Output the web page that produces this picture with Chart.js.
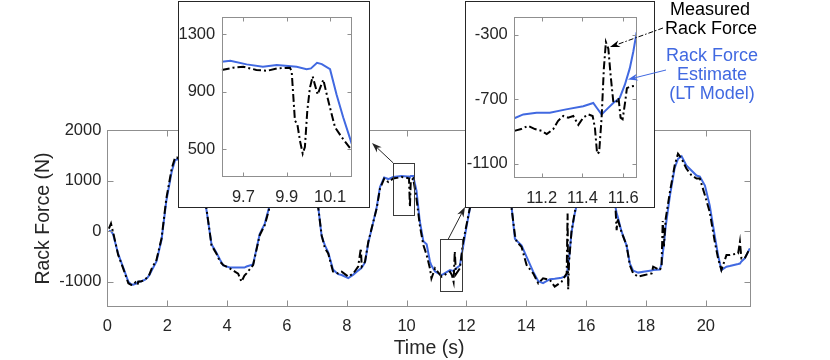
<!DOCTYPE html>
<html>
<head>
<meta charset="utf-8">
<script src="https://cdn.jsdelivr.net/npm/chart.js@4.4.1/dist/chart.umd.min.js"></script>
<style>
  body { margin: 0; background: #fff; }
  #wrap { position: relative; width: 830px; height: 360px; }
  canvas { position: absolute; }
</style>
</head>
<body>
<div id="wrap">
  <canvas id="main" width="830" height="360" style="left:0;top:0"></canvas>
  <canvas id="zoomA" width="192" height="207" style="left:178px;top:1px;background:#fff"></canvas>
  <canvas id="zoomB" width="190" height="207" style="left:465px;top:1px;background:#fff"></canvas>
  <canvas id="marks" width="830" height="360" style="left:0;top:0"></canvas>
</div>
<script>
// --- data ---
const time = [0.05, 0.12, 0.19, 0.36, 0.53, 0.70, 0.79, 0.86, 0.94, 1.01, 1.03, 1.14, 1.26, 1.34, 1.40, 1.48, 1.64, 1.81, 1.97, 2.15, 2.26, 2.32, 2.45, 2.65, 2.9, 3.1, 3.2, 3.31, 3.48, 3.64, 3.76, 3.87, 4.09, 4.26, 4.37, 4.48, 4.58, 4.65, 4.87, 5.09, 5.26, 5.41, 5.6, 5.9, 6.2, 6.5, 6.8, 7.05, 7.16, 7.27, 7.38, 7.54, 7.71, 7.83, 8.05, 8.22, 8.38, 8.47, 8.50, 8.61, 8.72, 8.83, 9.0, 9.11, 9.25, 9.39, 9.55, 9.83, 10.03, 10.08, 10.11, 10.14, 10.22, 10.33, 10.44, 10.56, 10.67, 10.78, 10.83, 10.95, 11.17, 11.45, 11.52, 11.57, 11.61, 11.65, 11.78, 11.89, 12.0, 12.11, 12.3, 12.6, 12.9, 13.2, 13.51, 13.62, 13.68, 13.84, 14.01, 14.23, 14.4, 14.56, 14.79, 14.95, 15.18, 15.35, 15.38, 15.40, 15.43, 15.51, 15.62, 15.8, 16.1, 16.4, 16.7, 16.98, 17.02, 17.05, 17.18, 17.35, 17.46, 17.57, 17.74, 17.96, 18.19, 18.24, 18.46, 18.52, 18.56, 18.6, 18.66, 18.8, 18.96, 19.07, 19.19, 19.35, 19.52, 19.69, 19.8, 19.97, 20.13, 20.3, 20.41, 20.52, 20.69, 20.8, 21.08, 21.14, 21.19, 21.3, 21.47];
const measured = [50, 150, -20, -470, -740, -1030, -1060, -1065, -1010, -1060, -1000, -990, -960, -900, -860, -740, -570, -140, 645, 1240, 1450, 1460, 1380, 1200, 1050, 900, 700, 450, -280, -440, -600, -670, -736, -800, -840, -1000, -880, -835, -670, -80, 120, 450, 850, 1050, 1100, 1050, 850, 450, -80, -340, -440, -800, -835, -800, -900, -835, -703, -340, -700, -605, -210, 50, 450, 840, 1040, 970, 1040, 1070, 1050, 1040, 480, 1000, 1040, 645, 118, -276, -473, -736, -933, -736, -900, -800, -880, -1000, -400, -850, -736, -211, 118, 447, 900, 1150, 1100, 900, 447, -79, -211, -310, -670, -835, -1032, -933, -966, -1098, -1000, -835, 350, -1150, -600, -14, 380, 800, 1100, 1000, 700, 470, 20, 250, -14, -276, -670, -835, -900, -868, -835, -703, -770, -700, 200, -300, 250, 775, 1302, 1532, 1434, 1237, 1105, 1040, 1040, 710, 380, -211, -540, -770, -473, -473, -440, -211, -540, -540, -341];
const estimate = [10, 0, -60, -450, -720, -1000, -1050, -1060, -1040, -1020, -1000, -990, -960, -920, -870, -780, -600, -170, 600, 1180, 1400, 1420, 1400, 1250, 1100, 950, 720, 420, -260, -420, -560, -680, -720, -720, -720, -720, -720, -700, -660, -60, 150, 480, 870, 1080, 1120, 1080, 850, 460, -100, -280, -420, -760, -850, -868, -930, -860, -780, -740, -720, -620, -230, 40, 470, 870, 1060, 1030, 1070, 1090, 1080, 1080, 1070, 1090, 1090, 800, 200, -200, -260, -600, -680, -800, -870, -770, -780, -790, -760, -740, -680, -300, 80, 430, 900, 1150, 1120, 950, 470, -150, -190, -280, -510, -800, -990, -1030, -950, -940, -920, -880, -750, -650, -540, -30, 350, 800, 1050, 1000, 750, 480, 350, 300, 0, -280, -640, -780, -820, -800, -780, -770, -760, -650, -450, -250, 100, 700, 1250, 1430, 1480, 1300, 1200, 1100, 1080, 900, 510, -100, -475, -770, -703, -690, -650, -640, -600, -540, -341];

const xTicks = [0, 2, 4, 6, 8, 10, 12, 14, 16, 18, 20];
const yTicks = [-1000, 0, 1000, 2000];

// zoom A (around 10 s)
const zoomAMeasTime = [9.6, 9.654, 9.70, 9.76, 9.81, 9.854, 9.915, 9.923, 9.938, 9.949, 9.961, 9.974, 9.984, 9.995, 10.007, 10.02, 10.03, 10.043, 10.057, 10.069, 10.085, 10.10, 10.123, 10.154, 10.2];
const zoomAMeas = [1053, 1069, 1076, 1053, 1047, 1064, 1069, 1042, 700, 677, 562, 471, 517, 768, 928, 1008, 951, 882, 939, 985, 882, 790, 654, 585, 494];
const zoomAEstTime = [9.6, 9.64, 9.715, 9.79, 9.854, 9.946, 9.992, 10.012, 10.04, 10.062, 10.1, 10.13, 10.161, 10.2];
const zoomAEst = [1110, 1117, 1092, 1076, 1088, 1076, 1058, 1064, 1103, 1094, 1058, 882, 722, 540];
const zoomAXTicks = [9.7, 9.9, 10.1];
const zoomAYTicks = [500, 900, 1300];

// zoom B (around 11.4 s)
const zoomBMeasTime = [11.066, 11.10, 11.133, 11.167, 11.2, 11.225, 11.257, 11.28, 11.306, 11.33, 11.355, 11.38, 11.404, 11.428, 11.45, 11.461, 11.472, 11.482, 11.494, 11.505, 11.515, 11.527, 11.538, 11.551, 11.564, 11.577, 11.587, 11.597, 11.61, 11.618, 11.637, 11.666];
const zoomBMeas = [-897, -886, -866, -886, -897, -917, -886, -836, -805, -815, -805, -860, -815, -795, -805, -876, -1039, -1029, -815, -510, -347, -388, -550, -713, -724, -693, -815, -825, -713, -632, -622, -616];
const zoomBEstTime = [11.066, 11.11, 11.175, 11.24, 11.32, 11.404, 11.453, 11.47, 11.494, 11.519, 11.551, 11.583, 11.608, 11.632, 11.649, 11.666];
const zoomBEst = [-819, -795, -785, -785, -764, -744, -724, -754, -795, -764, -724, -693, -611, -510, -408, -286];
const zoomBXTicks = [11.2, 11.4, 11.6];
const zoomBYTicks = [-1100, -700, -300];

const font = "'Liberation Sans', Arial, sans-serif";
const ink = '#262626';
const blue = 'rgb(65,105,225)';

// box around the axes with inward ticks (matlab look)
const frameTicks = {
  id: 'frameTicks',
  afterDatasetsDraw(chart, args, opts) {
    const { ctx, chartArea: a, scales: { x, y } } = chart;
    const L = Math.round(a.left) + 0.5, R = Math.round(a.right) - 0.5;
    const T = Math.round(a.top) + 0.5, B = Math.round(a.bottom) - 0.5;
    ctx.save();
    ctx.strokeStyle = '#8f8f8f';
    ctx.lineWidth = 1;
    ctx.beginPath();
    x.ticks.forEach(t => {
      const px = Math.round(x.getPixelForValue(t.value)) + 0.5;
      ctx.moveTo(px, B); ctx.lineTo(px, B - opts.len);
      ctx.moveTo(px, T); ctx.lineTo(px, T + opts.len);
    });
    y.ticks.forEach(t => {
      const py = Math.round(y.getPixelForValue(t.value)) + 0.5;
      ctx.moveTo(L, py); ctx.lineTo(L + opts.len, py);
      ctx.moveTo(R, py); ctx.lineTo(R - opts.len, py);
    });
    ctx.stroke();
    ctx.strokeRect(L, T, R - L, B - T);
    ctx.strokeStyle = '#3a3a3a';
    (opts.boxes || []).forEach(b => {
      const x0 = Math.round(x.getPixelForValue(b.x[0])) + 0.5, x1 = Math.round(x.getPixelForValue(b.x[1])) + 0.5;
      const y0 = Math.round(y.getPixelForValue(b.y[1])) + 0.5, y1 = Math.round(y.getPixelForValue(b.y[0])) + 0.5;
      ctx.strokeRect(x0, y0, x1 - x0, y1 - y0);
    });
    if (opts.outline) {
      ctx.strokeStyle = opts.outline;
      ctx.strokeRect(0.5, 0.5, chart.width - 1, chart.height - 1);
    }
    ctx.restore();
  }
};

function scaleX(min, max, values, pad, height, title) {
  return {
    type: 'linear', min, max,
    afterBuildTicks: s => { s.ticks = values.map(v => ({ value: v })); },
    afterFit: s => { s.height = height; },
    grid: { display: false, drawTicks: false },
    border: { display: false },
    ticks: { color: ink, font: { family: font, size: 16.5 }, padding: pad, maxRotation: 0, autoSkip: false, callback: v => String(v) },
    title: { display: !!title, text: title || '', color: ink, font: { family: font, size: 19.5 }, padding: { top: 0, bottom: 0 } }
  };
}

function scaleY(min, max, values, pad, width, title) {
  return {
    type: 'linear', min, max,
    afterBuildTicks: s => { s.ticks = values.map(v => ({ value: v })); },
    afterFit: s => { s.width = width; },
    grid: { display: false, drawTicks: false },
    border: { display: false },
    ticks: { color: ink, font: { family: font, size: 16.5 }, padding: pad, autoSkip: false, callback: v => String(v) },
    title: { display: !!title, text: title || '', color: ink, font: { family: font, size: 19.5 }, padding: { top: 32, bottom: 0 } }
  };
}

function pts(xs, ys) {
  return xs.map((t, i) => ({ x: t, y: ys[i] }));
}

function lines(measT, meas, estT, est, w) {
  return [
    { data: pts(measT, meas), borderColor: '#000', borderWidth: w, borderDash: [8, 3, 2, 3], pointRadius: 0, tension: 0, fill: false },
    { data: pts(estT, est), borderColor: blue, borderWidth: w, pointRadius: 0, tension: 0, fill: false }
  ];
}

const common = {
  responsive: false,
  animation: false,
  devicePixelRatio: 1,
  events: []
};

// main plot
const mainChart = new Chart(document.getElementById('main'), {
  type: 'line',
  data: { datasets: lines(time, measured, time, estimate, 2) },
  options: {
    ...common,
    layout: { padding: { top: 130, right: 79.3, bottom: 0, left: 0 } },
    scales: {
      x: scaleX(0, 21.5, xTicks, 10, 53, 'Time (s)'),
      y: scaleY(-1500, 2000, yTicks, 6, 107.4, 'Rack Force (N)')
    },
    plugins: {
      legend: { display: false }, tooltip: { enabled: false },
      frameTicks: { len: 6, boxes: [{ x: [9.55, 10.25], y: [320, 1350] }, { x: [11.11, 11.84], y: [-1180, -160] }] }
    }
  },
  plugins: [frameTicks]
});

// zoom A
const zoomAChart = new Chart(document.getElementById('zoomA'), {
  type: 'line',
  data: { datasets: lines(zoomAMeasTime, zoomAMeas, zoomAEstTime, zoomAEst, 2) },
  options: {
    ...common,
    layout: { padding: { top: 14, right: 18.3, bottom: 0, left: 0 } },
    scales: {
      x: scaleX(9.6, 10.2, zoomAXTicks, 11, 31.3),
      y: scaleY(310, 1419, zoomAYTicks, 6.5, 43.7)
    },
    plugins: { legend: { display: false }, tooltip: { enabled: false }, frameTicks: { len: 4, outline: '#262626' } }
  },
  plugins: [frameTicks]
});

// zoom B
const zoomBChart = new Chart(document.getElementById('zoomB'), {
  type: 'line',
  data: { datasets: lines(zoomBMeasTime, zoomBMeas, zoomBEstTime, zoomBEst, 2) },
  options: {
    ...common,
    layout: { padding: { top: 14, right: 18.3, bottom: 0, left: 0 } },
    scales: {
      x: scaleX(11.066, 11.666, zoomBXTicks, 10.7, 29.7),
      y: scaleY(-1191, -194, zoomBYTicks, 6.5, 49.3)
    },
    plugins: { legend: { display: false }, tooltip: { enabled: false }, frameTicks: { len: 4, outline: '#262626' } }
  },
  plugins: [frameTicks]
});

// arrows and labels on top
const m = document.getElementById('marks').getContext('2d');
function arrow(x1, y1, x2, y2, color, dash) {
  const ang = Math.atan2(y2 - y1, x2 - x1), L = 10, W = 3.5;
  m.save();
  m.strokeStyle = color; m.fillStyle = color; m.lineWidth = 1;
  m.setLineDash(dash || []);
  m.beginPath();
  m.moveTo(x1, y1);
  m.lineTo(x2 - Math.cos(ang) * L * 0.7, y2 - Math.sin(ang) * L * 0.7);
  m.stroke();
  m.setLineDash([]);
  m.translate(x2, y2); m.rotate(ang);
  m.beginPath();
  m.moveTo(0, 0); m.lineTo(-L, -W); m.lineTo(-L * 0.7, 0); m.lineTo(-L, W);
  m.closePath(); m.fill();
  m.restore();
}

const mx = mainChart.scales.x, my = mainChart.scales.y;
arrow(mx.getPixelForValue(9.55), my.getPixelForValue(1350), 372, 143, ink);
const boxB = document.getElementById('zoomB');
arrow(mx.getPixelForValue(11.39), my.getPixelForValue(-160), boxB.offsetLeft, boxB.offsetTop + boxB.height - 1, ink);

const bx = zoomBChart.scales.x, by = zoomBChart.scales.y;
arrow(663, 28, boxB.offsetLeft + bx.getPixelForValue(11.535), boxB.offsetTop + by.getPixelForValue(-378), '#000', [5, 2, 1.5, 2]);
arrow(666, 70, boxB.offsetLeft + bx.getPixelForValue(11.623), boxB.offsetTop + by.getPixelForValue(-579), blue);

m.font = '18px ' + font;
m.textAlign = 'center';
m.textBaseline = 'middle';
m.fillStyle = '#000';
m.fillText('Measured', 710, 10);
m.fillText('Rack Force', 711, 29);
m.fillStyle = blue;
m.fillText('Rack Force', 712, 56);
m.fillText('Estimate', 712, 75);
m.fillText('(LT Model)', 712, 94);
</script>
</body>
</html>
